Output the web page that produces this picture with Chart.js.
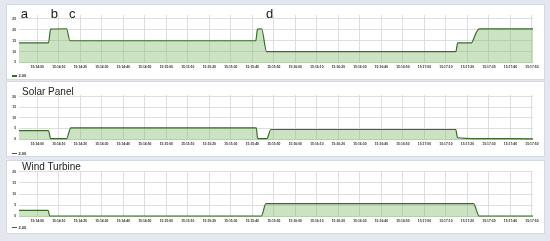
<!DOCTYPE html>
<html>
<head>
<meta charset="utf-8">
<script src="https://cdn.jsdelivr.net/npm/chart.js@4.4.1/dist/chart.umd.min.js"></script>
<style>
  html, body { margin: 0; padding: 0; }
  body { width: 550px; height: 241px; background: #e4e8ee; position: relative; overflow: hidden;
         font-family: "Liberation Sans", Arial, sans-serif; }
  .panel { position: absolute; left: 6px; width: 537px; background: #fff; border: 1px solid #d3d9e2; }
  .panel canvas { position: absolute; left: 0; top: 0; }
  .title { position: absolute; left: 15px; font-size: 10px; line-height: 10px; color: #222; white-space: nowrap; }
  .legend { position: absolute; left: 5px; font-size: 4px; line-height: 4px; color: #2a2a2a; font-weight: bold; white-space: nowrap; }
  .legend span { display: inline-block; width: 5px; height: 1.4px; background: #3a6b2a; vertical-align: middle; margin-right: 1.5px; }
</style>
</head>
<body>
<div class="panel" id="p1" style="top:4px;height:74px;">
  <canvas id="c1" width="537" height="74"></canvas>
  <div class="legend" style="top:69px;"><span></span>2.00</div>
</div>
<div class="panel" id="p2" style="top:81px;height:74px;">
  <canvas id="c2" width="537" height="74"></canvas>
  <div class="title" style="top:5px;">Solar Panel</div>
  <div class="legend" style="top:69.5px;"><span></span>2.00</div>
</div>
<div class="panel" id="p3" style="top:160px;height:72px;">
  <canvas id="c3" width="537" height="72"></canvas>
  <div class="title" style="top:1px;">Wind Turbine</div>
  <div class="legend" style="top:64.5px;"><span></span>2.00</div>
</div>
<script>
// x tick labels (every 10 s)
var xTickLabels = ['15:14:00', '15:14:10', '15:14:20', '15:14:30', '15:14:40', '15:14:50',
    '15:15:00', '15:15:10', '15:15:20', '15:15:30', '15:15:40', '15:15:50',
    '15:16:00', '15:16:10', '15:16:20', '15:16:30', '15:16:40', '15:16:50',
    '15:17:00', '15:17:10', '15:17:20', '15:17:30', '15:17:40', '15:17:50'];
var xStart = '15:13:51.5';
var xEnd = '15:17:50.5';

// top panel (total)
var totalTimes = ['15:13:51.5', '15:14:05.2', '15:14:06.2', '15:14:13.6', '15:14:15.2', '15:15:41.6',
    '15:15:42.4', '15:15:44.3', '15:15:46.6', '15:17:14.6', '15:17:15.5', '15:17:21.8', '15:17:24.0', '15:17:25.5', '15:17:50.5'];
var totalValues = [14, 14, 20.3, 20.5, 15, 15, 20.3, 20.5, 10, 10, 14, 14, 18.5, 20.4, 20.4];
var totalTicks = [5, 10, 15, 20, 25];

// solar panel
var solarTimes = ['15:13:51.5', '15:14:05.2', '15:14:06.2', '15:14:13.6', '15:14:15.6', '15:15:41.8',
    '15:15:42.5', '15:15:46.8', '15:15:48.6', '15:17:14.6', '15:17:15.4', '15:17:24.5', '15:17:50.5'];
var solarValues = [4, 4, 0.2, 0.2, 5.3, 5.3, 0.2, 0.2, 4.5, 4.5, 0.6, 0.2, 0.1];

// wind turbine
var windTimes = ['15:13:51.5', '15:14:05.0', '15:14:05.8', '15:15:44.2', '15:15:46.3', '15:17:22.8',
    '15:17:25.5', '15:17:50.5'];
var windValues = [2.6, 2.6, 0, 0, 5.6, 5.6, 0, 0];
var smallTicks = [0, 5, 10, 15, 20];

// annotation letters on top panel
var markLabels = ['a', 'b', 'c', 'd'];
var markTimes = ['15:13:54', '15:14:08', '15:14:16.3', '15:15:48'];

function toSec(s) {
    var p = s.split(':');
    return (+p[0]) * 3600 + (+p[1]) * 60 + parseFloat(p[2]);
}

var markPlugin = {
    id: 'marks',
    afterDraw: function(chart) {
        if (chart.canvas.id !== 'c1') return;
        var ctx = chart.ctx;
        var xs = chart.scales.x;
        ctx.save();
        ctx.font = '13px "Liberation Sans", Arial, sans-serif';
        ctx.fillStyle = '#1a1a1a';
        ctx.textAlign = 'center';
        ctx.textBaseline = 'alphabetic';
        for (var i = 0; i < markLabels.length; i++) {
            ctx.fillText(markLabels[i], xs.getPixelForValue(toSec(markTimes[i])), 12.5);
        }
        ctx.restore();
    }
};

function makeChart(id, times, values, yMin, yMax, yTicks, padTop) {
    var ctx = document.getElementById(id).getContext('2d');
    var pts = times.map(function(t, i) { return { x: toSec(t), y: values[i] }; });
    return new Chart(ctx, {
        type: 'line',
        data: {
            datasets: [{
                label: '2.00',
                data: pts,
                borderColor: '#3a6b2a',
                borderWidth: 1.2,
                backgroundColor: 'rgba(128,184,104,0.4)',
                fill: 'start',
                pointRadius: 0,
                cubicInterpolationMode: 'monotone'
            }]
        },
        options: {
            responsive: false,
            animation: false,
            layout: { padding: { top: padTop, right: 11, bottom: 8, left: 0 } },
            plugins: { legend: { display: false }, tooltip: { enabled: false } },
            scales: {
                x: {
                    type: 'linear',
                    min: toSec(xStart),
                    max: toSec(xEnd),
                    afterBuildTicks: function(s) {
                        s.ticks = xTickLabels.map(function(l) { return { value: toSec(l) }; });
                    },
                    afterFit: function(s) { s.height = 8; },
                    ticks: {
                        callback: function(v, i) { return xTickLabels[i]; },
                        font: { size: 3.3, weight: 'bold' },
                        color: '#2a2a2a',
                        maxRotation: 0,
                        autoSkip: false,
                        padding: 2
                    },
                    grid: { color: '#dedede', drawTicks: false },
                    border: { display: false }
                },
                y: {
                    min: yMin,
                    max: yMax,
                    afterBuildTicks: function(s) {
                        s.ticks = yTicks.map(function(v) { return { value: v }; });
                    },
                    afterFit: function(s) { s.width = 12; },
                    ticks: { font: { size: 3.3, weight: 'bold' }, color: '#2a2a2a', padding: 3 },
                    grid: { color: '#dedede', drawTicks: false },
                    border: { display: false }
                }
            }
        },
        plugins: [markPlugin]
    });
}

makeChart('c1', totalTimes, totalValues, 4.8, 26.8, totalTicks, 10);
makeChart('c2', solarTimes, solarValues, -0.47, 20.8, smallTicks, 13);
makeChart('c3', windTimes, windValues, -0.45, 20.45, smallTicks, 10);
</script>
</body>
</html>
